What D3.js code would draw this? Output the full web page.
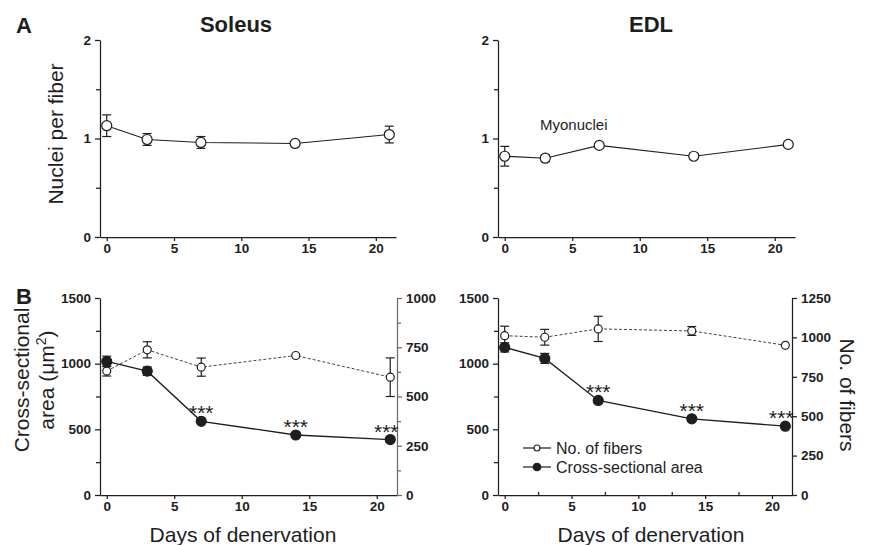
<!DOCTYPE html>
<html>
<head>
<meta charset="utf-8">
<script src="https://cdn.jsdelivr.net/npm/d3@7"></script>
<style>
    body { margin: 0; background: #fff; }
    svg { font-family: "Liberation Sans", Arial, sans-serif; }
</style>
</head>
<body>
<div id="chart"></div>
<script>
"use strict";

// days after denervation
const days = [0, 3, 7, 14, 21];
const xTicks = [0, 5, 10, 15, 20];

// A: myonuclei per fiber (mean, sem)
const soleusNuclei = [1.13, 0.99, 0.96, 0.95, 1.04];
const soleusNucleiErr = [0.11, 0.06, 0.06, 0, 0.085];
const edlNuclei = [0.82, 0.80, 0.93, 0.82, 0.94];
const edlNucleiErr = [0.10, 0.035, 0, 0.03, 0];

// B: cross-sectional area (um2) and number of fibers
const soleusArea = [1017, 943, 561, 457, 422];
const soleusAreaErr = [40, 32, 0, 0, 0];
const soleusFibers = [629, 737, 649, 708, 598];
const soleusFibersErr = [25, 41, 46, 0, 98];
const edlArea = [1124, 1040, 720, 580, 524];
const edlAreaErr = [35, 38, 0, 0, 0];
const edlFibers = [1011, 1001, 1054, 1041, 950];
const edlFibersErr = [60, 50, 80, 28, 0];

const sigDays = [7, 14, 21];
const legendLabels = ["No. of fibers", "Cross-sectional area"];

var width = 869,
    height = 545;
var ink = "#1e1e1e";

var svg = d3.select("#chart")
    .append("svg")
    .attr("width", width)
    .attr("height", height);

const styleAxis = (g, color) => {
    g.attr("font-family", null).attr("font-size", null);
    g.selectAll("path, line").attr("stroke", color || ink).attr("stroke-width", 1.25);
    g.selectAll("text")
        .attr("fill", ink)
        .attr("font-family", "Liberation Sans, Arial, sans-serif")
        .attr("font-weight", "bold")
        .attr("font-size", 13.5);
}

const drawX = (x, y0, minor) => {
    var g = svg.append("g")
        .attr("transform", `translate(0,${y0})`)
        .call(d3.axisBottom(x).tickValues(xTicks).tickFormat(d3.format("d"))
            .tickSize(4).tickSizeOuter(0).tickPadding(2));
    styleAxis(g);
    if (minor) {
        var m = svg.append("g")
            .attr("transform", `translate(0,${y0})`)
            .call(d3.axisTop(x).tickValues([2.5, 7.5, 12.5, 17.5]).tickSize(3).tickFormat(""));
        m.select(".domain").remove();
        styleAxis(m);
    }
}

const drawY = (y, x0, major, minor, side, color) => {
    var ax = side === "right" ? d3.axisRight(y) : d3.axisLeft(y);
    var g = svg.append("g")
        .attr("transform", `translate(${x0},0)`)
        .call(ax.tickValues(major).tickFormat(d3.format("d"))
            .tickSize(5).tickSizeOuter(0).tickPadding(4));
    styleAxis(g, color);
    var ax2 = side === "right" ? d3.axisRight(y) : d3.axisLeft(y);
    var m = svg.append("g")
        .attr("transform", `translate(${x0},0)`)
        .call(ax2.tickValues(minor).tickSize(4).tickFormat(""));
    m.select(".domain").remove();
    styleAxis(m, color);
}

const drawSeries = (x, y, vals, errs, opts) => {
    var pts = days.map((d, i) => ({ d: d, v: vals[i], e: errs[i] }));
    var line = d3.line().x(p => x(p.d)).y(p => y(p.v));
    svg.append("path")
        .datum(pts)
        .attr("fill", "none")
        .attr("stroke", opts.lineColor || ink)
        .attr("stroke-width", opts.lineWidth || 1.2)
        .attr("stroke-dasharray", opts.dash || null)
        .attr("d", line);

    var eb = svg.append("g").attr("stroke", ink).attr("stroke-width", 1.2);
    pts.filter(p => p.e > 0).forEach(p => {
        eb.append("line")
            .attr("x1", x(p.d)).attr("x2", x(p.d))
            .attr("y1", y(p.v - p.e)).attr("y2", y(p.v + p.e));
        [p.v - p.e, p.v + p.e].forEach(v => {
            eb.append("line")
                .attr("x1", x(p.d) - 4.5).attr("x2", x(p.d) + 4.5)
                .attr("y1", y(v)).attr("y2", y(v));
        });
    });

    svg.append("g")
        .selectAll("circle")
        .data(pts)
        .enter()
        .append("circle")
        .attr("cx", p => x(p.d))
        .attr("cy", p => y(p.v))
        .attr("r", opts.r)
        .attr("fill", opts.filled ? ink : "#fff")
        .attr("stroke", ink)
        .attr("stroke-width", 1.2);
}

const drawStars = (x, y, vals) => {
    sigDays.forEach(d => {
        var i = days.indexOf(d);
        svg.append("text")
            .attr("x", x(d) - (d === 21 ? 4 : 0))
            .attr("y", y(vals[i]) - 1)
            .attr("text-anchor", "middle")
            .attr("font-size", 21)
            .attr("fill", ink)
            .text("***");
    });
}

const text = (x, y, str, size, opts) => {
    opts = opts || {};
    var t = svg.append("text")
        .attr("transform", `translate(${x},${y})` + (opts.rotate ? ` rotate(${opts.rotate})` : ""))
        .attr("text-anchor", opts.anchor || "middle")
        .attr("font-size", size)
        .attr("font-weight", opts.bold ? "bold" : null)
        .attr("fill", ink)
        .text(str);
    return t;
}

// ---- A: nuclei per fiber ----
var yTop = d3.scaleLinear().domain([0, 2]).range([237, 40]);
var xTL = d3.scaleLinear().domain([-0.5, 21.5]).range([100, 396]);
var xTR = d3.scaleLinear().domain([-0.5, 21.5]).range([498, 795]);

drawX(xTL, 237, false);
drawX(xTR, 237, false);
drawY(yTop, 100, [0, 1, 2], [0.5, 1.5], "left");
drawY(yTop, 498, [0, 1, 2], [0.5, 1.5], "left");
drawSeries(xTL, yTop, soleusNuclei, soleusNucleiErr, { r: 5, filled: false, lineWidth: 1.1 });
drawSeries(xTR, yTop, edlNuclei, edlNucleiErr, { r: 5, filled: false, lineWidth: 1.1 });

text(540, 130, "Myonuclei", 15, { anchor: "start" });

// ---- B: cross-sectional area + fiber count ----
var yBL = d3.scaleLinear().domain([0, 1500]).range([495, 298]);
var yBLr = d3.scaleLinear().domain([0, 1000]).range([495, 298]);
var xBL = d3.scaleLinear().domain([-0.5, 21.5]).range([100, 397]);
var yBR = d3.scaleLinear().domain([0, 1500]).range([495, 298]);
var yBRr = d3.scaleLinear().domain([0, 1250]).range([495, 298]);
var xBR = d3.scaleLinear().domain([-0.5, 21.5]).range([498, 792]);

drawX(xBL, 495, false);
drawX(xBR, 495, true);
drawY(yBL, 100, [0, 500, 1000, 1500], [250, 750, 1250], "left");
drawY(yBLr, 397, [0, 250, 500, 750, 1000], [125, 375, 625, 875], "right", "#6a6a6a");
drawY(yBR, 498, [0, 500, 1000, 1500], [250, 750, 1250], "left");
drawY(yBRr, 792, [0, 250, 500, 750, 1000, 1250], [], "right");

drawSeries(xBL, yBLr, soleusFibers, soleusFibersErr, { r: 4, filled: false, dash: "3,2", lineWidth: 1, lineColor: "#444" });
drawSeries(xBL, yBL, soleusArea, soleusAreaErr, { r: 5, filled: true, lineWidth: 1.3 });
drawSeries(xBR, yBRr, edlFibers, edlFibersErr, { r: 4, filled: false, dash: "3,2", lineWidth: 1, lineColor: "#444" });
drawSeries(xBR, yBR, edlArea, edlAreaErr, { r: 5, filled: true, lineWidth: 1.3 });

drawStars(xBL, yBL, soleusArea);
drawStars(xBR, yBR, edlArea);

// legend
legendLabels.forEach((lab, i) => {
    var ly = 448 + i * 19;
    svg.append("line")
        .attr("x1", 523).attr("x2", 551)
        .attr("y1", ly).attr("y2", ly)
        .attr("stroke", ink).attr("stroke-width", 1.2);
    svg.append("circle")
        .attr("cx", 537).attr("cy", ly)
        .attr("r", i === 0 ? 3 : 3.8)
        .attr("fill", i === 0 ? "#fff" : ink)
        .attr("stroke", ink).attr("stroke-width", 1.1);
    text(556, ly + 6, lab, 16, { anchor: "start" });
});

// titles and labels
text(16, 33, "A", 22, { anchor: "start", bold: true });
text(16, 304, "B", 22, { anchor: "start", bold: true });
text(236, 32, "Soleus", 22, { bold: true });
text(651, 32, "EDL", 22, { bold: true });

text(63, 134, "Nuclei per fiber", 21, { rotate: -90 });
text(29, 380, "Cross-sectional", 21, { rotate: -90 });
var area = text(54, 380, "area (", 21, { rotate: -90 });
area.append("tspan").text("\u03bcm");
area.append("tspan").attr("baseline-shift", "super").attr("font-size", 14).text("2");
area.append("tspan").text(")");
text(840, 395, "No. of fibers", 21, { rotate: 90 });

text(243, 542, "Days of denervation", 21);
text(651, 542, "Days of denervation", 21);
</script>
</body>
</html>
